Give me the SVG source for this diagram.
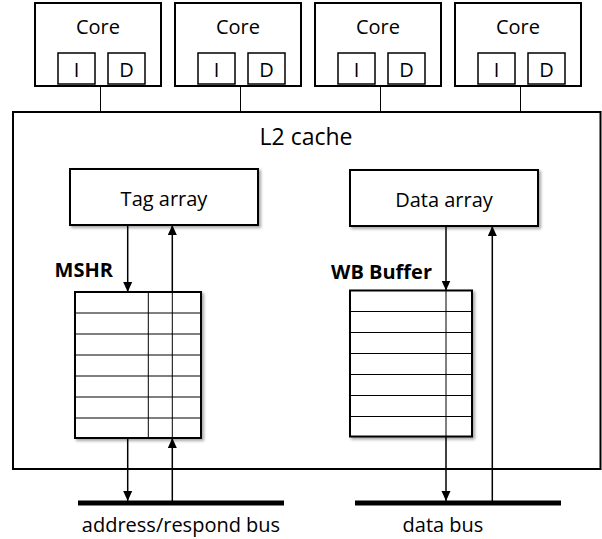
<svg xmlns="http://www.w3.org/2000/svg" width="602" height="539" viewBox="0 0 602 539">
<style>
text{font-family:"Open Sans","Liberation Sans",sans-serif;fill:#000;font-size:20px}
.c{text-anchor:middle}
.b{font-weight:bold}
.box{fill:#fff;stroke:#000;stroke-width:2}
.small{fill:#fff;stroke:#000;stroke-width:1.5}
.grid{stroke:#000;stroke-width:1;fill:none}
.ln{stroke:#000;stroke-width:1.5;fill:none}
.thin{stroke:#000;stroke-width:1;fill:none}
.bus{stroke:#000;stroke-width:5}
</style>
<defs>
<marker id="ah" markerUnits="userSpaceOnUse" markerWidth="10" markerHeight="10" refX="10" refY="5" orient="auto">
<path d="M0,0.5 L10,5 L0,9.5 z" fill="#000"/>
</marker>
<filter id="sh" x="-10%" y="-10%" width="130%" height="130%">
<feDropShadow dx="2" dy="2" stdDeviation="1.5" flood-color="#000" flood-opacity="0.35"/>
</filter>
</defs>

<g id="core1">
<rect class="box" x="35" y="3" width="126" height="83"/>
<text class="c" x="98" y="34">Core</text>
<rect class="small" x="58" y="53" width="37" height="31"/><text class="c" x="76.5" y="77">I</text>
<rect class="small" x="108" y="53" width="37" height="31"/><text class="c" x="126.5" y="77">D</text>
</g>
<g id="core2">
<rect class="box" x="175" y="3" width="126" height="83"/>
<text class="c" x="238" y="34">Core</text>
<rect class="small" x="198" y="53" width="37" height="31"/><text class="c" x="216.5" y="77">I</text>
<rect class="small" x="248" y="53" width="37" height="31"/><text class="c" x="266.5" y="77">D</text>
</g>
<g id="core3">
<rect class="box" x="315" y="3" width="126" height="83"/>
<text class="c" x="378" y="34">Core</text>
<rect class="small" x="338" y="53" width="37" height="31"/><text class="c" x="356.5" y="77">I</text>
<rect class="small" x="388" y="53" width="37" height="31"/><text class="c" x="406.5" y="77">D</text>
</g>
<g id="core4">
<rect class="box" x="455" y="3" width="126" height="83"/>
<text class="c" x="518" y="34">Core</text>
<rect class="small" x="478" y="53" width="37" height="31"/><text class="c" x="496.5" y="77">I</text>
<rect class="small" x="528" y="53" width="37" height="31"/><text class="c" x="546.5" y="77">D</text>
</g>

<g id="l2">
<rect class="box" x="13" y="112" width="587.5" height="357"/>
<text class="c" x="306" y="145" style="font-size:23px">L2 cache</text>
</g>

<g id="tag-array">
<rect class="box" x="70" y="169" width="188" height="56" filter="url(#sh)"/>
<text class="c" x="164" y="206">Tag array</text>
</g>
<g id="data-array">
<rect class="box" x="350" y="170" width="188" height="56" filter="url(#sh)"/>
<text class="c" x="444" y="207">Data array</text>
</g>

<g id="mshr">
<text class="b" x="113" y="277" text-anchor="end">MSHR</text>
<rect class="box" x="75" y="292" width="126" height="146" filter="url(#sh)"/>
<path class="grid" d="M75,313H201M75,334H201M75,355H201M75,376H201M75,397H201M75,418H201M148.3,292V438M172.3,292V438"/>
</g>

<g id="wb-buffer">
<text class="b" x="432" y="279" text-anchor="end">WB Buffer</text>
<rect class="box" x="350" y="290.5" width="122" height="146" filter="url(#sh)"/>
<path class="grid" d="M350,311.5H472M350,332.5H472M350,353.5H472M350,374.5H472M350,395.5H472M350,416.5H472M446,290.5V436.5"/>
</g>

<g id="address-bus">
<line class="bus" x1="78" y1="503" x2="284" y2="503"/>
<text class="c" x="181" y="532">address/respond bus</text>
</g>
<g id="data-bus">
<line class="bus" x1="355" y1="503" x2="561" y2="503"/>
<text class="c" x="443" y="532">data bus</text>
</g>

<g id="connectors">
<path class="thin" d="M100.5,86V112M240.5,86V112M380.5,86V112M520.5,86V112"/>
<line class="ln" x1="127.7" y1="225" x2="127.7" y2="292" marker-end="url(#ah)"/>
<line class="ln" x1="172.3" y1="292" x2="172.3" y2="225" marker-end="url(#ah)"/>
<line class="ln" x1="127.7" y1="438" x2="127.7" y2="501" marker-end="url(#ah)"/>
<line class="ln" x1="172.3" y1="501" x2="172.3" y2="438" marker-end="url(#ah)"/>
<line class="ln" x1="446" y1="226" x2="446" y2="290.5" marker-end="url(#ah)"/>
<line class="ln" x1="446" y1="436.5" x2="446" y2="501" marker-end="url(#ah)"/>
<line class="ln" x1="492.3" y1="501" x2="492.3" y2="226" marker-end="url(#ah)"/>
</g>
</svg>
